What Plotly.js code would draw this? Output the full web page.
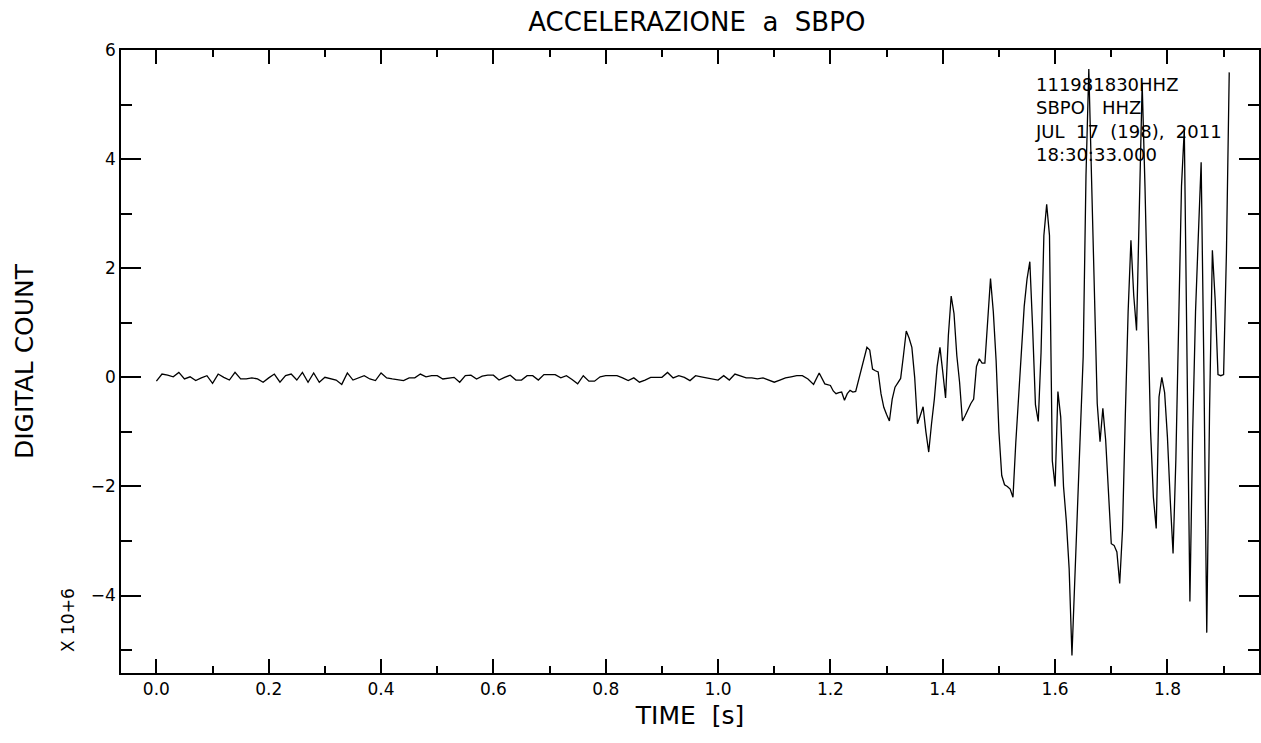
<!DOCTYPE html>
<html><head><meta charset="utf-8">
<script src="https://cdn.plot.ly/plotly-3.0.1.min.js"></script>
<style>html,body{margin:0;padding:0;background:#fff}#chart{width:1261px;height:743px}</style>
</head><body><div id="chart"></div>
<script>
// Digital count (x 10^6) of the SBPO HHZ record
// quiet part: one sample every 0.01 s starting at 0.00 s
const noiseStart = 0.0;
const noiseStep = 0.01;
const noiseCounts = [
 -0.07, 0.06, 0.04, 0.01, 0.09, -0.03, 0.01, -0.06, -0.01, 0.03,
 -0.11, 0.06, 0.00, -0.05, 0.09, -0.03, -0.03, -0.01, -0.03, -0.09,
 -0.01, 0.06, -0.09, 0.03, 0.06, -0.05, 0.09, -0.09, 0.08, -0.09,
 0.00, -0.03, -0.05, -0.13, 0.08, -0.05, -0.01, 0.03, -0.03, -0.06,
 0.08, -0.01, -0.03, -0.05, -0.06, -0.01, -0.01, 0.06, 0.01, 0.03,
 0.03, -0.03, -0.01, 0.00, -0.09, 0.03,
 0.04, -0.03, 0.02, 0.04, 0.04, -0.05, 0.00, 0.04, -0.05, -0.05,
 0.03, 0.03, -0.05, 0.05, 0.05, 0.05, -0.01, 0.03, -0.04, -0.12,
 0.03, -0.07, -0.07, 0.01, 0.03, 0.03, 0.03, -0.01, -0.06, -0.01,
 -0.09, -0.05, 0.00, 0.00, 0.00, 0.09, -0.01, 0.03, 0.00, -0.06,
 0.03, 0.01, -0.01, -0.03, -0.05, 0.03, -0.05, 0.06, 0.02, -0.01,
 -0.01, -0.03, -0.01, -0.05, -0.09, -0.05, -0.01, 0.01, 0.03, 0.03,
 -0.03, -0.13, 0.08, -0.12
];
// strong-motion part: one sample every 0.005 s starting at 1.200 s
const quakeStart = 1.2;
const quakeStep = 0.005;
const quakeCounts = [
 -0.15, -0.25, -0.30, -0.28, -0.27, -0.42, -0.30, -0.24, -0.27, -0.26,
 -0.05, 0.12, 0.35, 0.55, 0.50, 0.15, 0.12, 0.10, -0.30, -0.55,
 -0.68, -0.80, -0.40, -0.18, -0.10, -0.02, 0.40, 0.85, 0.72, 0.55,
 0.00, -0.85, -0.70, -0.54, -1.00, -1.37, -0.85, -0.40, 0.20, 0.55,
 0.10, -0.38, 0.77, 1.49, 1.17, 0.40, -0.10, -0.80, -0.70, -0.58,
 -0.48, -0.40, 0.20, 0.34, 0.26, 0.26, 1.10, 1.81, 1.20, 0.30,
 -1.00, -1.80, -1.97, -2.00, -2.05, -2.20, -1.20, -0.30, 0.60, 1.30,
 1.80, 2.12, 0.90, -0.50, -0.81, 0.46, 2.60, 3.17, 2.60, -1.53,
 -2.00, -0.26, -0.73, -2.00, -2.64, -3.51, -5.10, -3.75, -2.40, -1.00,
 0.38, 3.71, 5.65,
 3.60, 1.30, -0.48, -1.18, -0.57, -1.15, -2.20, -3.05, -3.08, -3.20,
 -3.78, -2.80, -0.70, 1.20, 2.51, 1.50, 0.86, 3.00, 5.38, 3.50,
 1.20, -1.00, -2.20, -2.77, -0.36, 0.00, -0.28, -1.10, -2.25, -3.23,
 -1.50, 0.80, 3.50, 4.55, 0.40, -4.11, -0.97, 1.20, 2.60, 3.94,
 0.07, -4.68, -0.60, 2.33, 1.41, 0.05, 0.03, 0.05, 2.27, 5.59
];
const xTickVals = [0, 0.2, 0.4, 0.6, 0.8, 1.0, 1.2, 1.4, 1.6, 1.8];
const xTickText = ['0.0', '0.2', '0.4', '0.6', '0.8', '1.0', '1.2', '1.4', '1.6', '1.8'];
const yTickVals = [-4, -2, 0, 2, 4, 6];
const yTickText = ['\u22124', '\u22122', '0', '2', '4', '6'];
const titleText = 'ACCELERAZIONE  a  SBPO';
const xTitle = 'TIME  [s]';
const yTitle = 'DIGITAL COUNT';
const scaleLabel = 'X 10+6';
const infoLines = ['111981830HHZ', 'SBPO\u00a0\u00a0\u00a0HHZ', 'JUL\u00a0\u00a017\u00a0\u00a0(198),\u00a0\u00a02011', '18:30:33.000'];

const times = [];
const counts = [];
noiseCounts.forEach((v, i) => { times.push(+(noiseStart + i * noiseStep).toFixed(4)); counts.push(v); });
quakeCounts.forEach((v, i) => { times.push(+(quakeStart + i * quakeStep).toFixed(4)); counts.push(v); });

const FONT = 'DejaVu Sans, Liberation Sans, sans-serif';
const trace = {
  x: times, y: counts, type: 'scatter', mode: 'lines',
  line: {color: '#000', width: 1.3}, hoverinfo: 'x+y', showlegend: false
};
const layout = {
  width: 1261, height: 743,
  margin: {l: 121, r: 2, t: 50, b: 70},
  paper_bgcolor: '#fff', plot_bgcolor: '#fff',
  font: {family: FONT, color: '#000'},
  title: {text: titleText, font: {family: FONT, size: 26, color: '#000'},
          x: 0.506, xref: 'paper', y: 0.970, yref: 'container', xanchor: 'center', yanchor: 'middle'},
  xaxis: {
    range: [-0.063, 1.963], showgrid: false, zeroline: false,
    showline: true, linecolor: '#000', linewidth: 1.5, mirror: 'ticks',
    ticks: 'inside', ticklen: 14, tickwidth: 1.5, tickcolor: '#000',
    tickvals: xTickVals, ticktext: xTickText,
    tickfont: {family: FONT, size: 17, color: '#000'},
    minor: {dtick: 0.1, ticks: 'inside', ticklen: 7, tickwidth: 1.5, tickcolor: '#000', showgrid: false},
    title: {text: xTitle, font: {family: FONT, size: 25, color: '#000'}, standoff: 8}
  },
  yaxis: {
    range: [-5.42, 6.0], showgrid: false, zeroline: false,
    showline: true, linecolor: '#000', linewidth: 1.5, mirror: 'ticks',
    ticks: 'inside', ticklen: 20, tickwidth: 1.5, tickcolor: '#000',
    tickvals: yTickVals, ticktext: yTickText,
    tickfont: {family: FONT, size: 17, color: '#000'},
    minor: {dtick: 1, ticks: 'inside', ticklen: 11, tickwidth: 1.5, tickcolor: '#000', showgrid: false},
    title: {text: yTitle, font: {family: FONT, size: 25, color: '#000'}, standoff: 50}
  },
  annotations: [
    {text: infoLines.join('<br>'), xref: 'paper', yref: 'paper', x: (1033 - 121) / 1138, y: 1 - 22 / 623,
     xanchor: 'left', yanchor: 'top', align: 'left', showarrow: false,
     font: {family: FONT, size: 18, color: '#000'}},
    {text: scaleLabel, xref: 'paper', yref: 'paper', x: 0, xshift: -53, y: 0.085, textangle: -90,
     xanchor: 'center', yanchor: 'middle', showarrow: false,
     font: {family: FONT, size: 17, color: '#000'}}
  ]
};
Plotly.newPlot('chart', [trace], layout, {displayModeBar: false, staticPlot: false});
</script>
</body></html>
